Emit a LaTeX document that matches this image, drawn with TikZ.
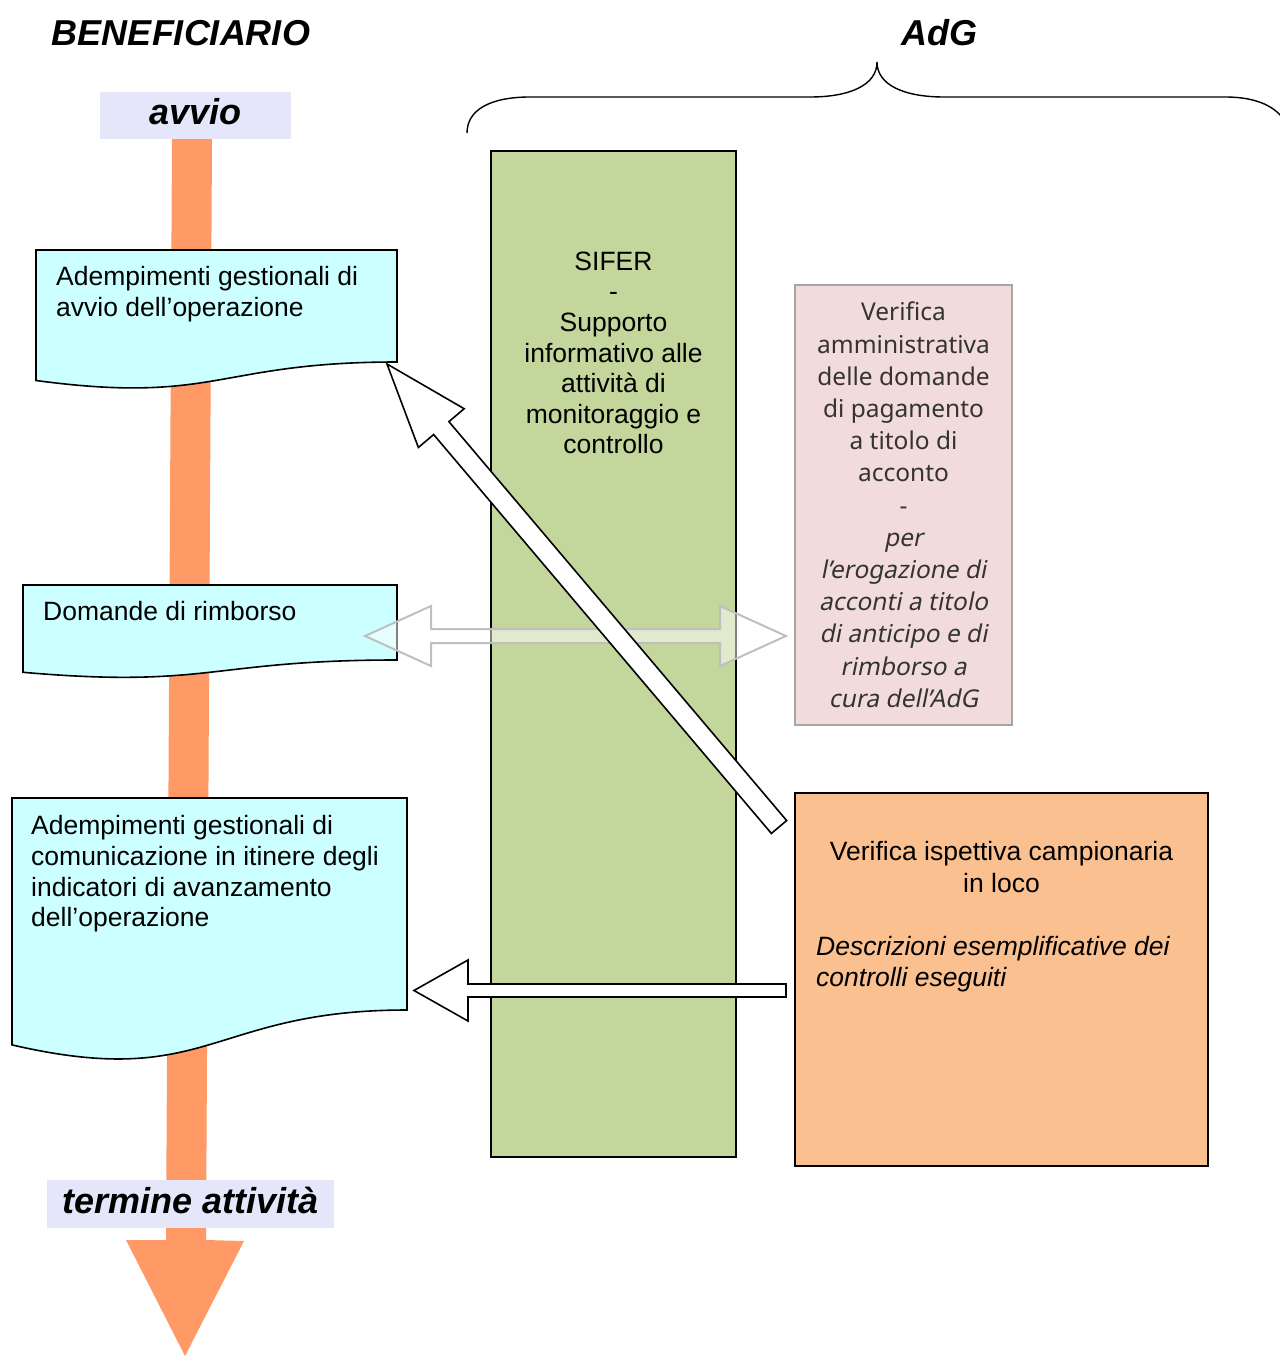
\documentclass[tikz,border=0pt]{standalone}
\usepackage{fontspec}
\setmainfont{Liberation Sans}
\newfontfamily\verificafont{Noto Sans}[ItalicFont={Noto Sans}, ItalicFeatures={FakeSlant=0.2}]
\usetikzlibrary{calc}

\definecolor{doccyan}{HTML}{CCFFFF}
\definecolor{sifergreen}{HTML}{C3D69B}
\definecolor{verpink}{HTML}{F2DCDB}
\definecolor{verline}{HTML}{A6A6A6}
\definecolor{ispezorange}{HTML}{FAC090}
\definecolor{flowbar}{HTML}{FF9966}
\definecolor{taglilac}{HTML}{E6E6FA}
\definecolor{ghostgrey}{HTML}{BFBFBF}
\definecolor{verink}{HTML}{333333}

% block arrow: [style]{tail}{tip}{shaft half width}{head half width}{head length}
\newcommand\blockarrow[6][]{%
  \coordinate (ba-base) at ($(#3)!#6!(#2)$);
  \draw[#1] ($(#2)!#4!90:(#3)$) -- ($(ba-base)!#4!-90:(#2)$) -- ($(ba-base)!#5!-90:(#2)$)
    -- (#3) -- ($(ba-base)!#5!90:(#2)$) -- ($(ba-base)!#4!90:(#2)$) -- ($(#2)!#4!-90:(#3)$) -- cycle;}
% same, with a head at both ends
\newcommand\twinarrow[6][]{%
  \coordinate (ba-l) at ($(#2)!#6!(#3)$);
  \coordinate (ba-r) at ($(#3)!#6!(#2)$);
  \draw[#1] (#2) -- ($(ba-l)!#5!90:(#3)$) -- ($(ba-l)!#4!90:(#3)$) -- ($(ba-r)!#4!-90:(#2)$)
    -- ($(ba-r)!#5!-90:(#2)$) -- (#3) -- ($(ba-r)!#5!90:(#2)$) -- ($(ba-r)!#4!90:(#2)$)
    -- ($(ba-l)!#4!-90:(#3)$) -- ($(ba-l)!#5!-90:(#3)$) -- cycle;}

\tikzset{
  docbox/.style={draw=black, line width=1.6pt, fill=doccyan},
  plain/.style={inner sep=0pt, font=\fontsize{26.5}{30.6}\selectfont},
  title/.style={inner sep=0pt, font=\fontsize{36}{40}\selectfont\bfseries\itshape},
  tagbox/.style={title, fill=taglilac, text depth=8pt},
  whitearrow/.style={draw=black, line width=1.6pt, fill=white, line join=miter},
  ghostarrow/.style={draw=ghostgrey, line width=2pt, fill=white, fill opacity=0.5},
}

\begin{document}
\begin{tikzpicture}[x=1pt, y=-1pt]
    \useasboundingbox (0,0) rectangle (1279,1356);

    % time line of the beneficiary
    \fill[flowbar] (172,139) -- (212,139) -- (206,1240) -- (244,1241) -- (185,1356)
        -- (126,1240) -- (166,1240) -- cycle;

    \node[title] (benef) at (181,33) {BENEFICIARIO};
    \node[title] (adg) at (939,33) {AdG};
    \node[tagbox, minimum width=191pt, minimum height=47pt] (avvio) at (195.5,115.5) {avvio};
    \node[tagbox, minimum width=287pt, minimum height=48pt] (termine) at (190.5,1204) {termine attività};

    % documents
    \draw[docbox] (36,250) -- (397,250) -- (397,362)
        .. controls (216.5,362) and (216.5,404.7) .. (36,380.5) -- cycle;
    \draw[docbox] (23,585) -- (397,585) -- (397,660)
        .. controls (210,660) and (210,688.6) .. (23,672.3) -- cycle;
    \draw[docbox] (12,798) -- (407,798) -- (407,1010)
        .. controls (209.5,1010) and (209.5,1090.7) .. (12,1044.9) -- cycle;
    \node[plain, anchor=north west, align=left] (doc1) at (56,266.5)
        {Adempimenti gestionali di\\avvio dell’operazione};
    \node[plain, anchor=north west, align=left] (doc2) at (43,601.5) {Domande di rimborso};
    \node[plain, anchor=north west, align=left] (doc3) at (31,815.5)
        {Adempimenti gestionali di\\comunicazione in itinere degli\\indicatori di avanzamento\\dell’operazione};

    % AdG side
    \node[draw=black, line width=1.2pt, fill=sifergreen, minimum width=245pt, minimum height=1006pt]
        (sifer) at (613.5,654) {};
    \node[plain, anchor=north, align=center] (sifer-txt) at (613.5,251.5)
        {SIFER\\-\\Supporto\\informativo alle\\attività di\\monitoraggio e\\controllo};

    \node[draw=verline, line width=1.2pt, fill=verpink, minimum width=217pt, minimum height=440pt]
        (verifica) at (903.5,505) {};
    \node[inner sep=0pt, anchor=north, align=center, text=verink,
        font=\verificafont\fontsize{24.5}{32.2}\selectfont] (verifica-txt) at (903.5,302)
        {Verifica\\amministrativa\\delle domande\\di pagamento\\a titolo di\\acconto\\-\\
         \itshape per\\\itshape l’erogazione di\\\itshape acconti a titolo\\
         \itshape di anticipo e di\\\itshape rimborso a\\\itshape cura dell’AdG};

    \node[draw=black, line width=1.2pt, fill=ispezorange, minimum width=413pt, minimum height=373pt]
        (ispezione) at (1001.5,979.5) {};
    \node[plain, anchor=north, align=center, font=\fontsize{26.5}{31.8}\selectfont]
        (ispezione-txt) at (1001.5,841.5) {Verifica ispettiva campionaria\\in loco};
    \node[plain, anchor=north west, align=left, font=\fontsize{26.5}{31}\selectfont\itshape]
        (ispezione-nota) at (816,936.5) {Descrizioni esemplificative dei\\controlli eseguiti};

    % brace over AdG
    \draw[line width=1.4pt] (467,133) .. controls (467,110) and (490,97) .. (530,97) -- (810,97)
        .. controls (850,97) and (877,85) .. (877,62) .. controls (877,85) and (904,97) .. (944,97)
        -- (1225,97) .. controls (1262,97) and (1285,110) .. (1290,135);

    % connectors
    \coordinate (rimb-l) at (365,636);
    \coordinate (rimb-r) at (786,636);
    \twinarrow[ghostarrow]{rimb-l}{rimb-r}{7pt}{30pt}{66pt}

    \coordinate (isp-diag) at (779,827);
    \coordinate (avvio-in) at (387,364);
    \blockarrow[whitearrow]{isp-diag}{avvio-in}{10pt}{30pt}{84pt}

    \coordinate (isp-oriz) at (786,990.5);
    \coordinate (itinere-in) at (414,990.5);
    \blockarrow[whitearrow]{isp-oriz}{itinere-in}{6.5pt}{30.5pt}{54pt}
\end{tikzpicture}
\end{document}
